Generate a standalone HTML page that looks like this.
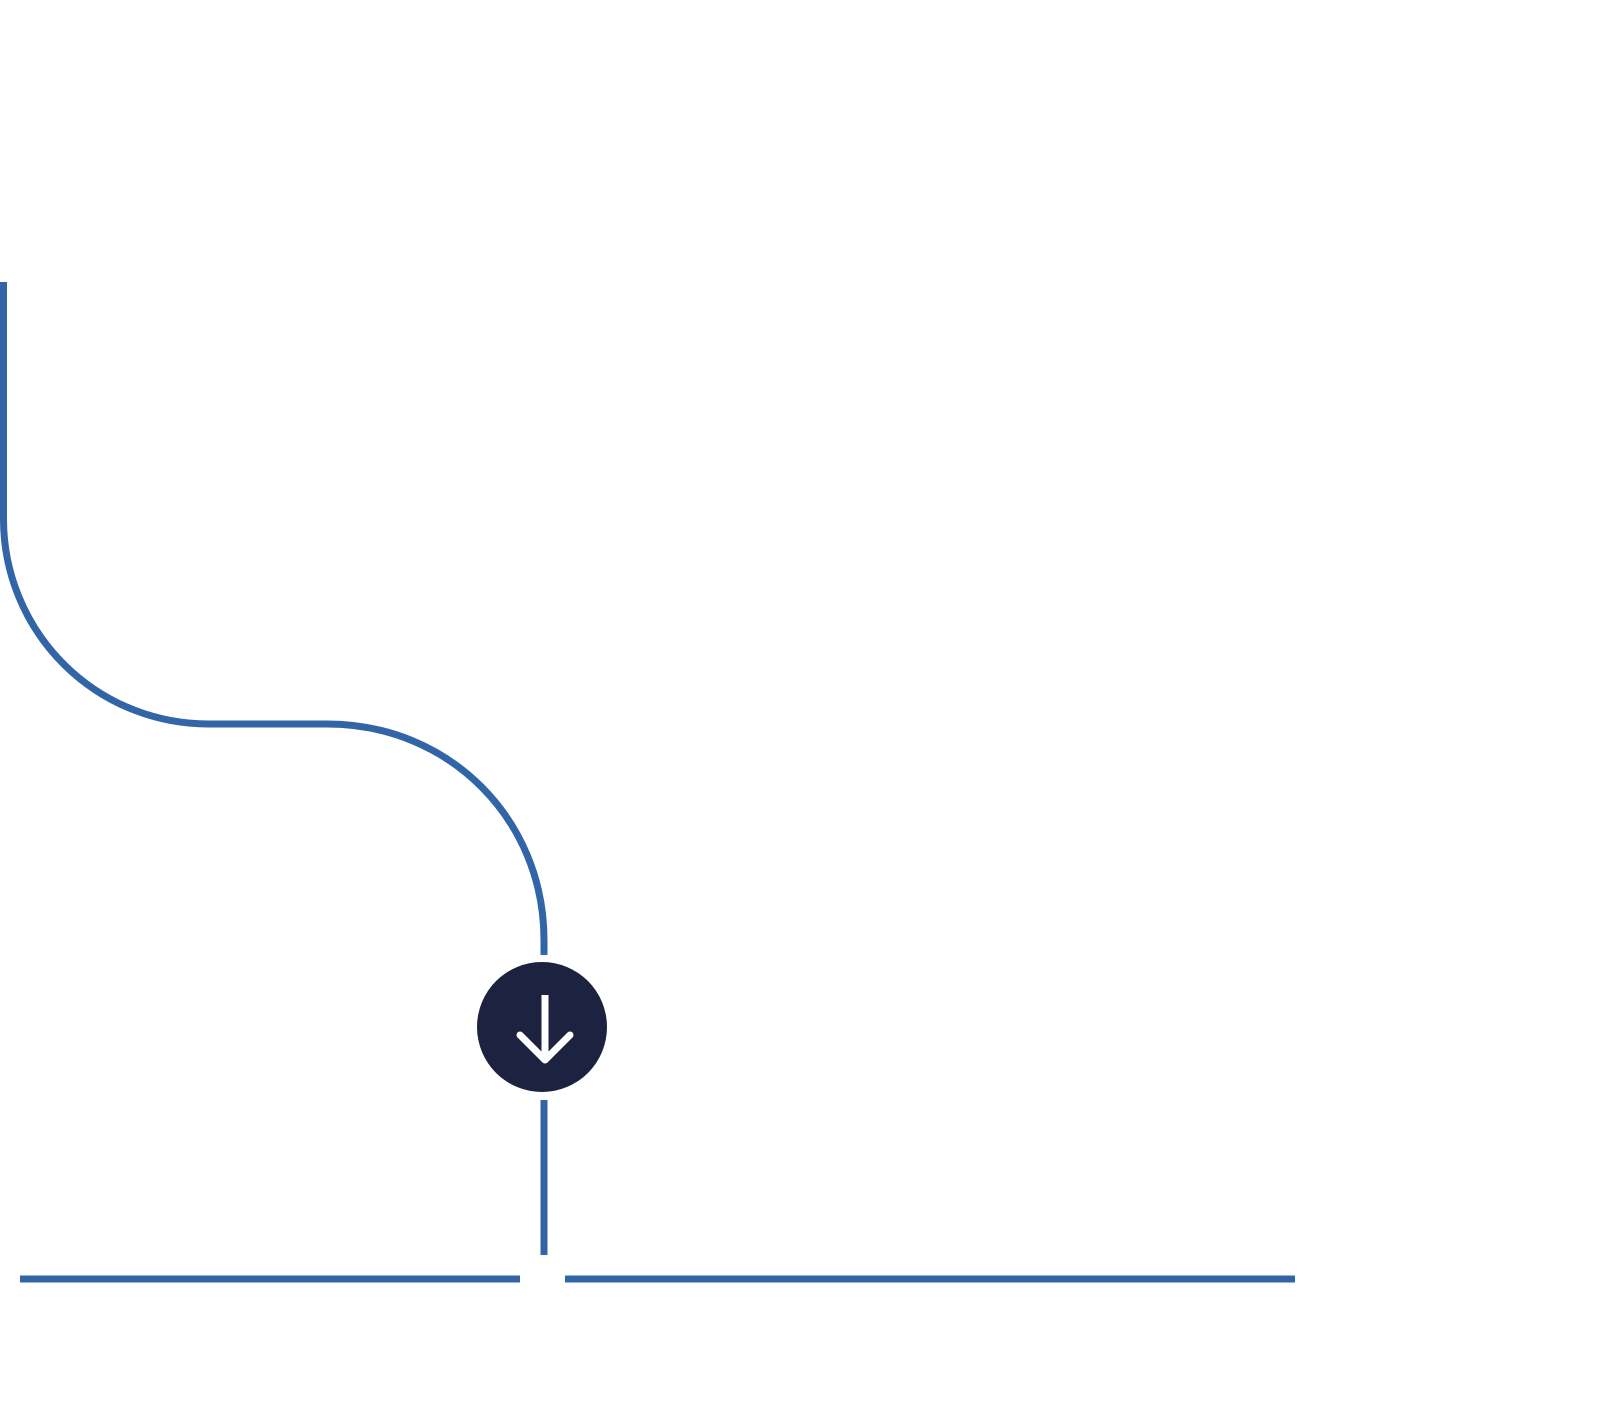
<!DOCTYPE html>
<html><head><style>html,body{margin:0;padding:0;background:#fff;}svg{display:block}</style></head>
<body>
<svg width="1600" height="1425" viewBox="0 0 1600 1425" xmlns="http://www.w3.org/2000/svg">
<g fill="none" stroke="#3165a8" stroke-width="7">
<path d="M3.5 282 L3.5 520 A205 205 0 0 0 211 724 L327 724 C450 724 544 820 544 940 L544 955"/>
<line x1="544" y1="1100" x2="544" y2="1255"/>
<line x1="20" y1="1279" x2="520" y2="1279"/>
<line x1="565" y1="1279" x2="1295" y2="1279"/>
</g>
<circle cx="542" cy="1027" r="65" fill="#1c2240"/>
<g stroke="#fff" stroke-width="7" fill="none">
<line x1="545" y1="995" x2="545" y2="1055" stroke-linecap="butt"/>
<polyline points="520,1035 545,1060 570,1035" stroke-linecap="round" stroke-linejoin="round"/>
</g>
</svg>
</body></html>
